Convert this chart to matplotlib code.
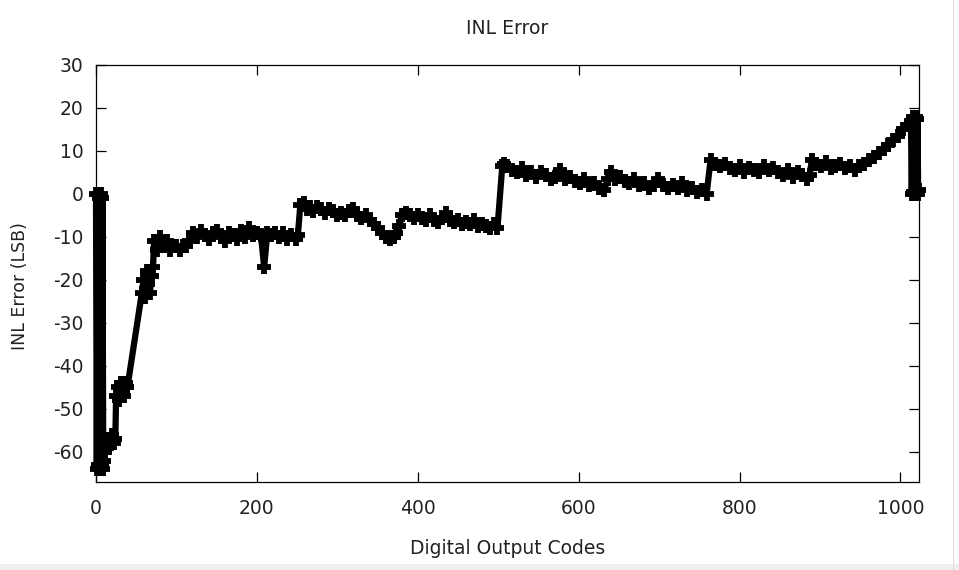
import matplotlib
matplotlib.use("Agg")
import matplotlib.pyplot as plt
from matplotlib.patches import Rectangle

# ---- data ----
codes = [
    0, 1, 2, 3, 4, 5, 6, 7, 8, 9, 10,
    11, 12, 14, 16, 18, 20, 22, 24,
    25, 27, 29, 31, 33, 35, 37, 39,
    57, 59, 61, 63, 65, 67, 69, 71,
    72, 76, 80, 84, 88, 92, 96, 100, 104, 108, 112, 116,
    120, 125, 130, 135, 140, 145, 150, 155, 160, 165, 170, 175, 180, 185, 190,
    195, 200, 205, 209, 213, 218, 223, 228, 233, 238, 243, 248, 251,
    254, 258, 262, 266, 270, 275, 280, 285, 290, 295, 300, 305, 310, 315, 320,
    325, 330, 335, 340, 345, 350, 355, 360, 365, 370, 373, 377,
    380, 385, 390, 395, 400, 405, 410, 415, 420, 425, 430, 435, 440, 445, 450,
    455, 460, 465, 470, 475, 480, 485, 490, 495, 499,
    505, 507, 511, 517, 523, 529, 535, 541, 547, 553, 559, 565, 571, 577, 583,
    589, 595, 601, 607, 613, 619, 625, 631, 637, 640, 645, 651, 657, 663, 669,
    675, 681, 687, 693, 699, 705, 711, 717, 723, 729, 735, 741, 747, 753, 759,
    764, 770, 776, 782, 788, 794, 800, 806, 812, 818, 824, 830, 836, 842, 848,
    854, 860, 866, 872, 878, 884, 887, 890, 895, 901, 907, 913, 919, 925, 931,
    937, 943, 949, 955, 961, 967, 973, 979, 985, 991, 997, 1003, 1009,
    1013, 1014, 1015, 1016, 1017, 1018, 1019, 1020, 1021, 1022, 1023,
]
inl = [
    0, -64, 0, -63, -1, -64, 0, -63, -1, -64, -62,
    -60, -57, -59, -57, -58, -56, -58, -57,
    -47, -45, -48, -44, -46, -47, -44, -45,
    -23, -20, -24, -18, -21, -23, -19, -17,
    -11, -13, -10, -12, -11, -13, -12, -12, -13, -12, -12, -11,
    -9, -10, -8.5, -9.5, -10.5, -9, -8.5, -10, -11, -9, -9.5, -10.5, -8.5, -10, -8,
    -9.5, -9, -9.5, -17, -9, -9.5, -9, -10, -9, -10.5, -9.5, -10.5, -9.5,
    -2.5, -2, -3.5, -3, -4, -3, -3.5, -4.5, -3.5, -4, -5, -4.5, -5, -4, -3.5,
    -5, -5.5, -5, -6, -7, -8, -9, -10, -10.5, -10, -9, -7.5,
    -5, -4.5, -5, -5.5, -5, -5.5, -6, -5, -6, -6.5, -5.5, -4.5, -6, -6.5, -6,
    -7, -6.5, -7, -6, -7.5, -7, -7.5, -8, -7, -8,
    6.5, 7, 6.5, 5.5, 5, 6, 4.5, 5, 4, 5, 4.5, 3.5, 4, 5.5, 3.5,
    4, 3, 2.5, 3.5, 2, 2.5, 1.5, 1, 3.5, 5, 3.5, 4, 3, 2.5, 3.5,
    2, 2.5, 1.5, 2, 3.5, 2, 1.5, 2, 1.5, 2.5, 1, 1.5, 0.5, 1, 0,
    8, 7, 6.5, 7, 6, 5.5, 6.5, 5, 6, 5.5, 5, 6.5, 5.5, 6, 5,
    4.5, 5.5, 4, 5, 4.5, 3.5, 4.5, 8, 7, 6.5, 7.5, 6, 6.5, 7, 6,
    6.5, 5.5, 6.5, 7, 8, 8.5, 9.5, 10.5, 11.5, 12.5, 13.5, 15, 16,
    17, 0, 18, 0.5, 17, 0, 18, 0.5, 17.5, 0, 1,
]

x_ticks = [0, 200, 400, 600, 800, 1000]
y_ticks = [-60, -50, -40, -30, -20, -10, 0, 10, 20, 30]
title = "INL Error"
x_label = "Digital Output Codes"
y_label = "INL Error (LSB)"

# ---- figure ----
plt.rcParams['font.family'] = ['DejaVu Sans']
plt.rcParams['axes.unicode_minus'] = False
plt.rcParams['path.simplify'] = False
fig = plt.figure(figsize=(9.59, 5.70), dpi=100)
ax = fig.add_axes([96 / 959, 1 - 482 / 570, (919 - 96) / 959, (482 - 65) / 570])

ax.plot(codes, inl, color='black', linewidth=4.5, marker='+',
        markersize=10, markeredgewidth=4.2, solid_joinstyle='round',
        solid_capstyle='round', clip_on=False, zorder=3)

ax.set_xlim(0, 1023)
ax.set_ylim(-67, 30)
ax.set_xticks(x_ticks)
ax.set_yticks(y_ticks)

text_color = '#222222'
ax.tick_params(axis='both', which='major', direction='in', length=7,
               width=0.9, top=True, right=True, labelsize=13.5,
               colors='black', labelcolor=text_color)
ax.tick_params(axis='x', pad=12)
ax.tick_params(axis='y', pad=9)
for s in ax.spines.values():
    s.set_linewidth(0.9)
    s.set_color('black')

ax.set_title(title, fontsize=13.5, color=text_color, pad=22)
ax.set_xlabel(x_label, fontsize=13.5, color=text_color, labelpad=15)
ax.set_ylabel(y_label, fontsize=12.5, color=text_color)
ax.yaxis.set_label_coords(-0.081, 0.47)

# screenshot frame decoration (light gray strip at bottom / right edge)
fig.patches.append(Rectangle((0, 0), 1, 6 / 570, transform=fig.transFigure,
                             facecolor='#efefef', edgecolor='none'))
fig.patches.append(Rectangle((953 / 959, 0), 1 / 959, 1, transform=fig.transFigure,
                             facecolor='#dddddd', edgecolor='none'))

fig.savefig('out.png', dpi=100)
